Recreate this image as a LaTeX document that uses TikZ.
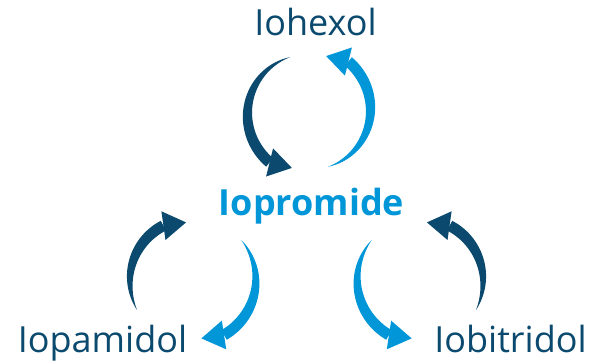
\documentclass[tikz,border=0pt]{standalone}
\usepackage{fontspec}
\setmainfont{Open Sans}
\usetikzlibrary{calc}

\definecolor{darkblue}{HTML}{0B4A6E}
\definecolor{lightblue}{HTML}{0096D8}

% tapered circular arrow around a centre:
% #1 colour, #2 centre, #3 tail angle, #4 head angle, #5 tip angle,
% #6 tail radius, #7 head radius, #8 tip radius
\newcommand{\cyclearrow}[8]{%
	\begin{scope}[shift={(#2)}]
		\fill[#1] plot[domain=0:1, samples=50, variable=\s]
			({(#6+(#7-#6)*\s+5.5*(1-(1-\s)^2))*cos(#3+(#4-#3)*\s)},
			 {(#6+(#7-#6)*\s+5.5*(1-(1-\s)^2))*sin(#3+(#4-#3)*\s)})
			-- plot[domain=0:1, samples=50, variable=\s]
			({(#6+(#7-#6)*(1-\s)-5.5*(1-\s*\s))*cos(#3+(#4-#3)*(1-\s))},
			 {(#6+(#7-#6)*(1-\s)-5.5*(1-\s*\s))*sin(#3+(#4-#3)*(1-\s))})
			-- cycle;
		\fill[#1] ($(#4:#7)!14.5pt!90:(#5:#8)$) -- (#5:#8)
			-- ($(#4:#7)!14.5pt!-90:(#5:#8)$) -- cycle;
	\end{scope}%
}

\begin{document}
\begin{tikzpicture}[
		x=1pt, y=1pt,
		drug/.style={
			font=\fontsize{36}{40}\selectfont, text=darkblue,
			inner sep=0pt, anchor=base
		}
		]
		\useasboundingbox (0,0) rectangle (590,361);
		
		% ---- Namen
		\node[drug]                                  (hexol)    at (315.5,325) {Iohexol};
		\node[drug, text=lightblue, font=\fontsize{36}{40}\selectfont\bfseries]
		                                             (promide)  at (311.5,145) {Iopromide};
		\node[drug]                                  (pamidol)  at (102.5,8)   {Iopamidol};
		\node[drug]                                  (bitridol) at (510.5,8)   {Iobitridol};
		
		% ---- Mittelpunkte der Pfeilpaare
		\coordinate (topring)   at ($(hexol.base)+(-6.5,-76)$);
		\coordinate (leftring)  at ($(pamidol.base)+(90.5,74)$);
		\coordinate (rightring) at ($(bitridol.base)+(-90.5,74)$);
		
		% ---- Iohexol <-> Iopromide
		\cyclearrow{darkblue}{topring}{109}{232}{253}{58}{64}{58.5}
		\cyclearrow{lightblue}{topring}{289}{412}{433}{58}{64}{58.5}
		
		% ---- Iopamidol <-> Iopromide
		\cyclearrow{darkblue}{leftring}{209}{119}{97}{64}{61}{57}
		\cyclearrow{lightblue}{leftring}{39}{-61}{-82}{62}{64}{60}
		
		% ---- Iobitridol <-> Iopromide
		\cyclearrow{lightblue}{rightring}{141}{241}{262}{62}{64}{60}
		\cyclearrow{darkblue}{rightring}{331}{421}{443}{64}{61}{57}
	\end{tikzpicture}
\end{document}
